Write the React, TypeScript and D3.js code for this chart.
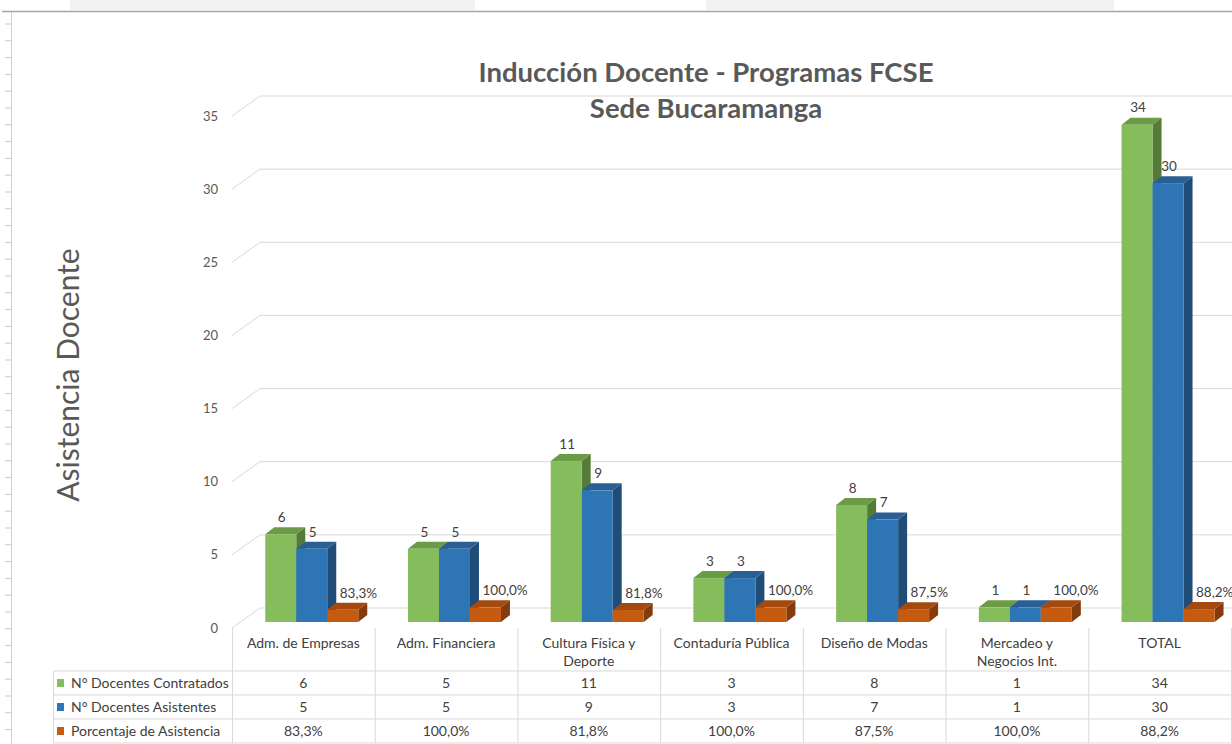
import React from "react";
import * as d3 from "d3";

const categories = [
  ["Adm. de Empresas"],
  ["Adm. Financiera"],
  ["Cultura Física y", "Deporte"],
  ["Contaduría Pública"],
  ["Diseño de Modas"],
  ["Mercadeo y", "Negocios Int."],
  ["TOTAL"],
];
const seriesNames = ["N° Docentes Contratados", "N° Docentes Asistentes", "Porcentaje de Asistencia"];
const contratados = [6, 5, 11, 3, 8, 1, 34];
const asistentes = [5, 5, 9, 3, 7, 1, 30];
const porcentaje = [0.833, 1.0, 0.818, 1.0, 0.875, 1.0, 0.882];
const yTicks = [0, 5, 10, 15, 20, 25, 30, 35];

const colors = [
  { front: "#85BD5C", top: "#6B9B47", side: "#547B37" },
  { front: "#2E75B6", top: "#2A5F95", side: "#1F4D78" },
  { front: "#C55A11", top: "#A44A0E", side: "#843C0C" },
];

const fmtPct = (v: number) => (v * 100).toFixed(1).replace(".", ",") + "%";

export default function App() {
  const W = 1232, H = 744;
  const font = "Lato, 'Open Sans', sans-serif";
  const txt = "#595959";
  const grid = "#D9D9D9";
  const y = d3.scaleLinear().domain([0, 35]).range([628, 116]);
  const keys = categories.map((c) => c.join(" "));
  const x = d3.scaleBand().domain(keys).range([232, 1231]).padding(0);
  const groupW = 93;
  const sub = d3.scaleBand().domain(["0", "1", "2"]).range([0, groupW]);
  const depth = { dx: 28, dy: -20 };
  const barShift = { dx: 8.4, dy: -6 };
  const barDepth = { dx: 9, dy: -7 };
  const series = [contratados, asistentes, porcentaje];
  const tableFs = 14;

  const bars: JSX.Element[] = [];
  const labels: JSX.Element[] = [];
  keys.forEach((k, i) => {
    const gx = (x(k) as number) + (x.bandwidth() - groupW) / 2 + barShift.dx;
    series.forEach((s, si) => {
      const v = s[i];
      const x0 = gx + (sub(String(si)) as number);
      const w = sub.bandwidth();
      const yb = y(0) + barShift.dy;
      const yt = y(v) + barShift.dy;
      const c = colors[si];
      const { dx, dy } = barDepth;
      bars.push(
        <g key={`b${i}-${si}`}>
          <polygon points={`${x0 + w},${yb} ${x0 + w + dx},${yb + dy} ${x0 + w + dx},${yt + dy} ${x0 + w},${yt}`} fill={c.side} />
          <polygon points={`${x0},${yt} ${x0 + dx},${yt + dy} ${x0 + w + dx},${yt + dy} ${x0 + w},${yt}`} fill={c.top} />
          <rect x={x0} y={yt} width={w} height={yb - yt} fill={c.front} />
        </g>
      );
      const cx = x0 + w / 2;
      if (si === 2) {
        labels.push(
          <text key={`l${i}-${si}`} x={cx - 3} y={yt - 17} dy="0.35em" fontSize={13.5} fill="#404040" fontFamily={font}>
            {fmtPct(v)}
          </text>
        );
      } else {
        labels.push(
          <text key={`l${i}-${si}`} x={cx + 1} y={yt - 17} dy="0.35em" textAnchor="middle" fontSize={13.5} fill="#404040" fontFamily={font}>
            {v}
          </text>
        );
      }
    });
  });

  const rulerTicks = d3.range(24, H, 16.8);
  const rowYs = [671, 695, 719, 743];
  const rowData = [contratados.map(String), asistentes.map(String), porcentaje.map(fmtPct)];

  return (
    <svg width={W} height={H} style={{ position: "absolute", left: 0, top: 0, background: "#fff" }}>
      <rect x={0} y={0} width={W} height={H} fill="#fff" />
      {/* top header strip */}
      <rect x={70} y={0} width={405} height={10} fill="#F2F2F2" />
      <rect x={706} y={0} width={408} height={10} fill="#F2F2F2" />
      <line x1={2} x2={W} y1={11.5} y2={11.5} stroke="#A6A6A6" strokeWidth={1.5} />
      {/* left ruler */}
      <line x1={11.5} x2={11.5} y1={12} y2={H} stroke="#D0D0D0" />
      {rulerTicks.map((t, i) => (
        <line key={i} x1={5} x2={11} y1={t} y2={t} stroke="#C8C8C8" />
      ))}
      {/* gridlines */}
      {yTicks.map((t) => (
        <g key={t}>
          <line x1={232} y1={y(t)} x2={232 + depth.dx} y2={y(t) + depth.dy} stroke={grid} />
          <line x1={232 + depth.dx} y1={y(t) + depth.dy} x2={W} y2={y(t) + depth.dy} stroke={grid} />
          <text x={218} y={y(t)} dy="0.35em" textAnchor="end" fontSize={13} fill={txt} fontFamily={font}>
            {t}
          </text>
        </g>
      ))}
      {/* title */}
      <text x={706} y={72} dy="0.35em" textAnchor="middle" fontSize={27.5} fontWeight={700} fill={txt} fontFamily={font}>
        Inducción Docente - Programas FCSE
      </text>
      <text x={706} y={108} dy="0.35em" textAnchor="middle" fontSize={27.5} fontWeight={700} fill={txt} fontFamily={font}>
        Sede Bucaramanga
      </text>
      {/* y axis title */}
      <text transform="translate(68,375) rotate(-90)" dy="0.35em" textAnchor="middle" fontSize={30} fill={txt} fontFamily={font}>
        Asistencia Docente
      </text>
      {bars}
      {labels}
      {/* data table */}
      {rowYs.map((ry, i) => (
        <line key={i} x1={53} x2={1232} y1={ry} y2={ry} stroke={grid} />
      ))}
      <line x1={53.5} x2={53.5} y1={671} y2={743} stroke={grid} />
      {d3.range(keys.length + 1).map((i) => {
        const bx = i < keys.length ? (x(keys[i]) as number) : 1231;
        return <line key={i} x1={bx + 0.5} x2={bx + 0.5} y1={628} y2={743} stroke={grid} />;
      })}
      {categories.map((c, i) => {
        const cx = (x(keys[i]) as number) + x.bandwidth() / 2;
        return (
          <text key={i} x={cx} y={643} textAnchor="middle" fontSize={tableFs} fill="#404040" fontFamily={font}>
            {c.map((ln, j) => (
              <tspan key={j} x={cx} dy={j === 0 ? "0.35em" : 18}>
                {ln}
              </tspan>
            ))}
          </text>
        );
      })}
      {seriesNames.map((s, r) => (
        <g key={s}>
          <rect x={57} y={rowYs[r] + 8} width={7} height={8} fill={colors[r].front} />
          <text x={71} y={rowYs[r] + 12} dy="0.35em" fontSize={tableFs} fill="#404040" fontFamily={font}>
            {s}
          </text>
          {rowData[r].map((v, i) => (
            <text
              key={i}
              x={(x(keys[i]) as number) + x.bandwidth() / 2}
              y={rowYs[r] + 12}
              dy="0.35em"
              textAnchor="middle"
              fontSize={tableFs}
              fill="#404040"
              fontFamily={font}
            >
              {v}
            </text>
          ))}
        </g>
      ))}
    </svg>
  );
}
